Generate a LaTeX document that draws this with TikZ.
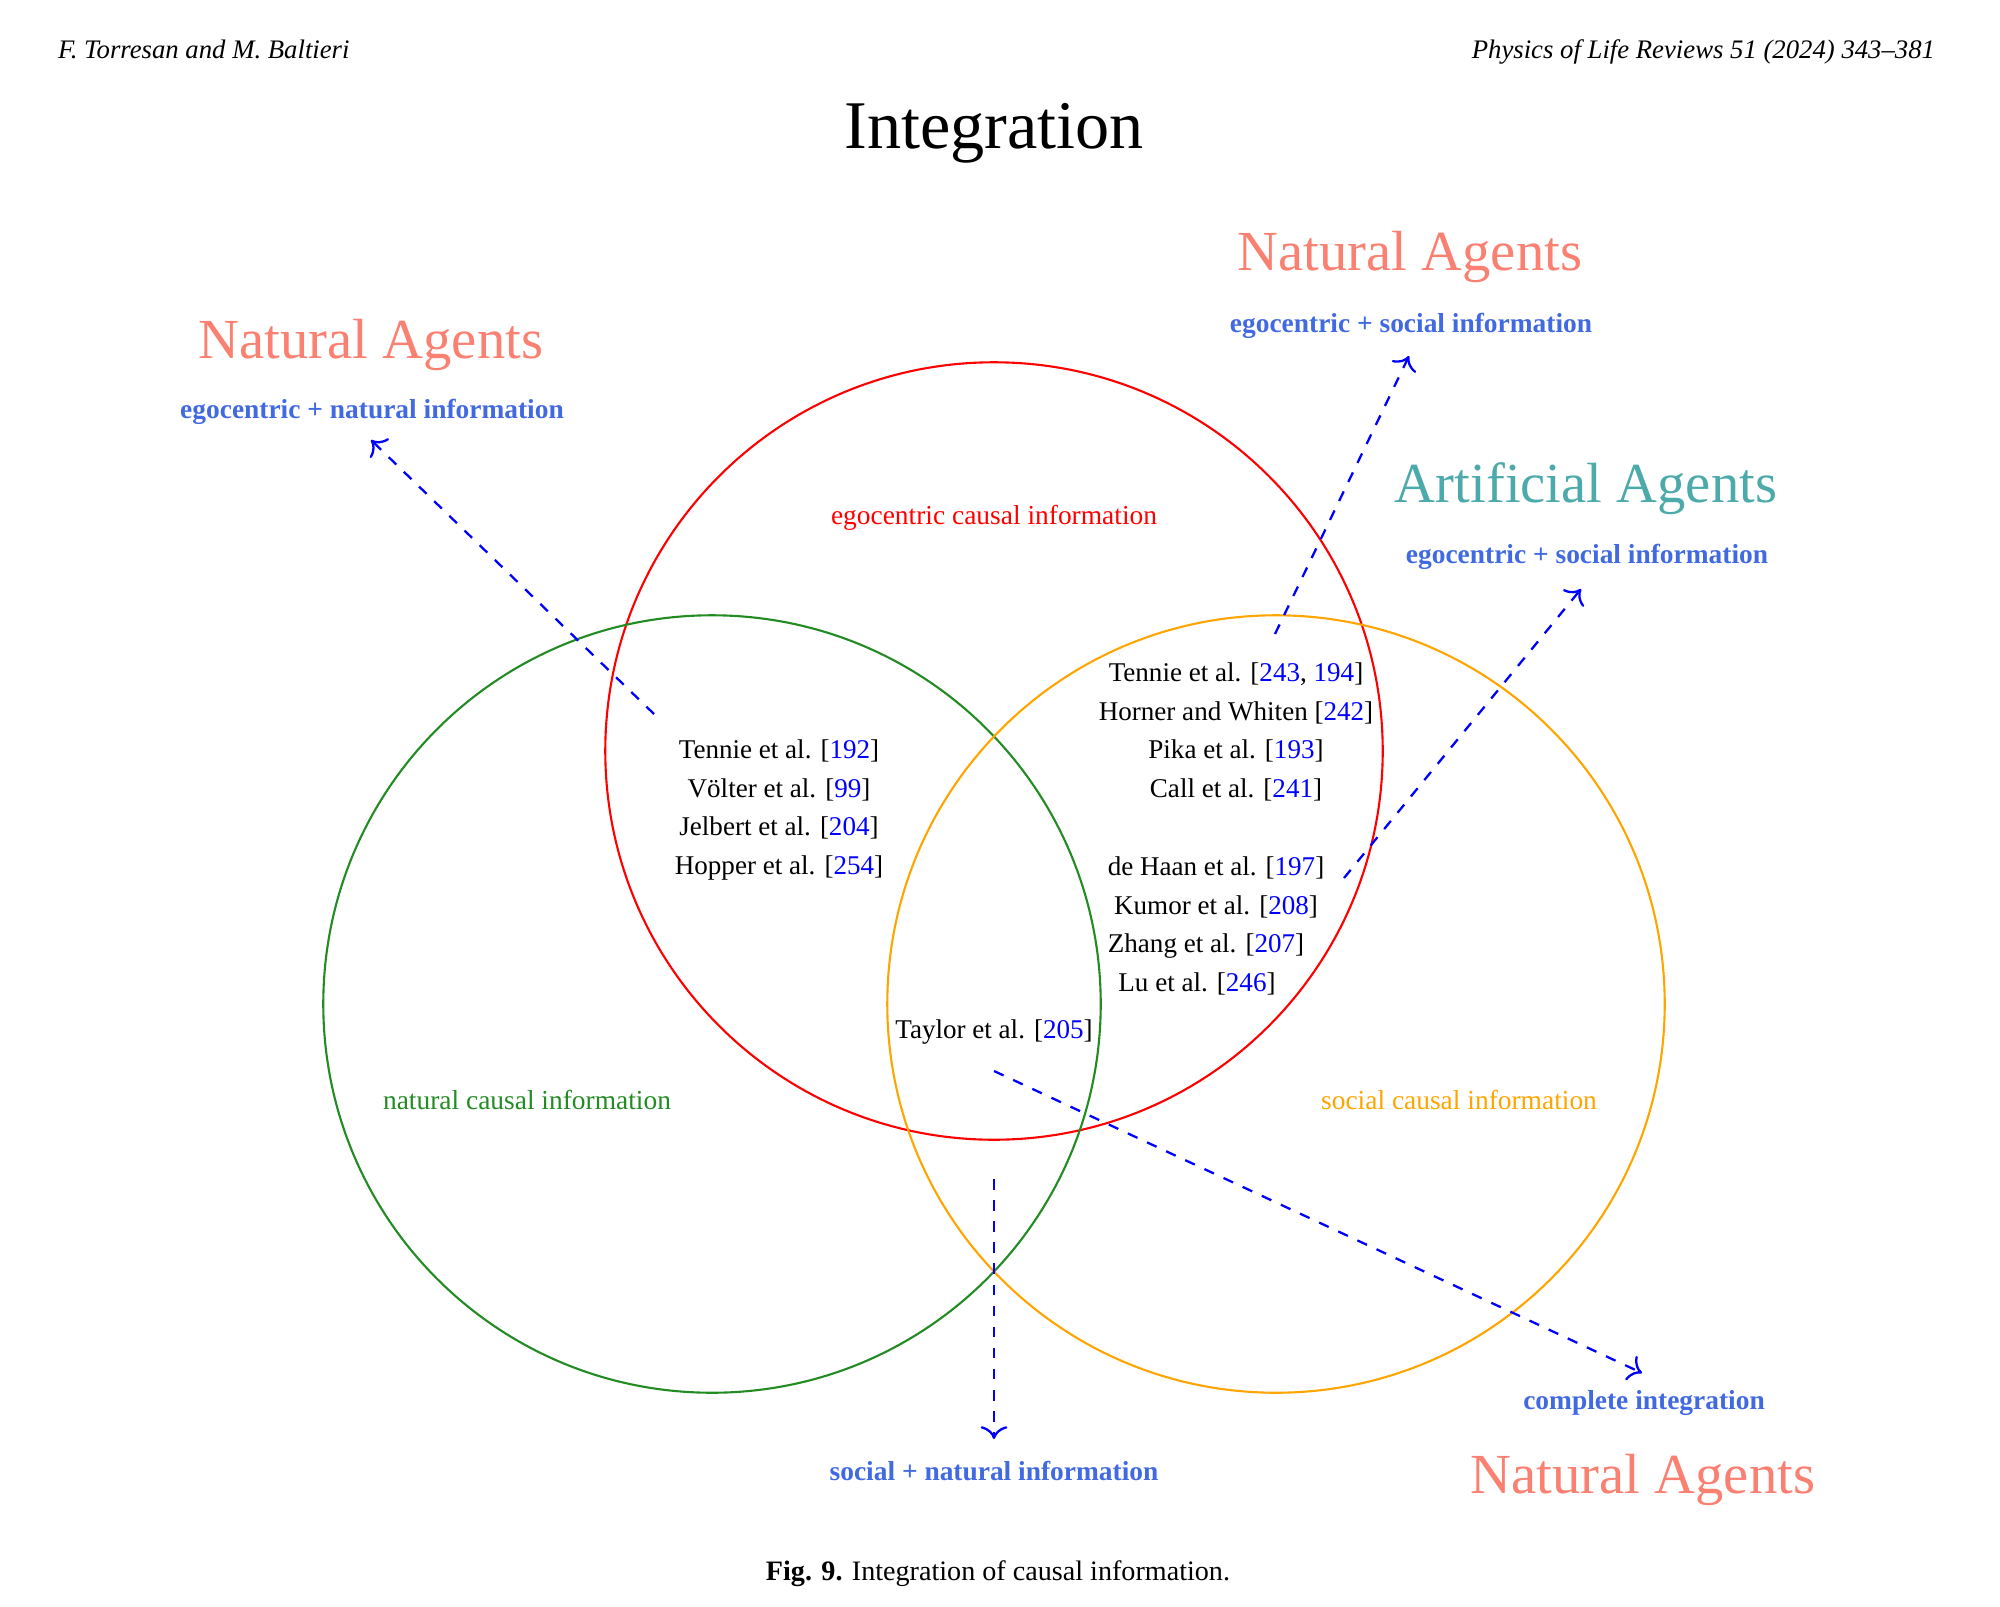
\documentclass[tikz,border=0pt]{standalone}
\usepackage{fontspec}
\usetikzlibrary{arrows.meta}
\setmainfont{Liberation Serif}
\definecolor{salmonc}{RGB}{250,128,114}
\definecolor{tealc}{RGB}{77,170,170}
\definecolor{royalc}{RGB}{65,105,225}
\definecolor{greenc}{RGB}{34,139,34}
\definecolor{orangec}{RGB}{255,165,0}
\newcommand{\rf}[1]{\textcolor{blue}{#1}}
\begin{document}
\begin{tikzpicture}[x=0.01cm,y=-0.01cm,
  every node/.style={inner sep=0pt,outer sep=0pt},
  venn/.style={circle,draw,line width=0.6pt,minimum size=7.77cm,inner sep=0pt},
  conn/.style={draw=blue,line width=0.65pt,dashed,-{To[scale=1.2]}},
  agent/.style={font=\fontsize{16.1}{19}\selectfont,anchor=base},
  info/.style={font=\fontsize{7.8}{9}\selectfont\bfseries,text=royalc,anchor=base},
  reftext/.style={font=\fontsize{7.7}{9}\selectfont,anchor=base},
  region/.style={font=\fontsize{7.8}{9}\selectfont,anchor=base}]
\useasboundingbox (0,0) rectangle (2000,1606);
% header
\node[font=\fontsize{7.6}{9}\selectfont\itshape,anchor=base west] (hl) at (58,58) {F. Torresan and M. Baltieri};
\node[font=\fontsize{7.6}{9}\selectfont\itshape,anchor=base east] (hr) at (1935,58) {Physics of Life Reviews 51 (2024) 343–381};
\node[font=\fontsize{19.4}{23}\selectfont,anchor=base] (title) at (994,148) {Integration};
% circles
\node[venn,draw=red] (ego) at (994,751) {};
\node[venn,draw=greenc] (nat) at (712,1004) {};
\node[venn,draw=orangec] (soc) at (1276,1004) {};
% region labels
\node[region,text=red] (egol) at (994,524) {egocentric causal information};
\node[region,text=greenc] (natl) at (527,1109) {natural causal information};
\node[region,text=orangec] (socl) at (1459,1109) {social causal information};
% references
\node[reftext] (r1) at (779,758) {Tennie et al. [\rf{192}]};
\node[reftext] (r2) at (779,797) {Völter et al. [\rf{99}]};
\node[reftext] (r3) at (779,835) {Jelbert et al. [\rf{204}]};
\node[reftext] (r4) at (779,874) {Hopper et al. [\rf{254}]};
\node[reftext] (r5) at (1236,681) {Tennie et al. [\rf{243}, \rf{194}]};
\node[reftext] (r6) at (1236,720) {Horner and Whiten [\rf{242}]};
\node[reftext] (r7) at (1236,758) {Pika et al. [\rf{193}]};
\node[reftext] (r8) at (1236,797) {Call et al. [\rf{241}]};
\node[reftext] (r9) at (1216,875) {de Haan et al. [\rf{197}]};
\node[reftext] (r10) at (1216,914) {Kumor et al. [\rf{208}]};
\node[reftext] (r11) at (1206,952) {Zhang et al. [\rf{207}]};
\node[reftext] (r12) at (1197,991) {Lu et al. [\rf{246}]};
\node[reftext] (r13) at (994,1038) {Taylor et al. [\rf{205}]};
% agents and info labels
\node[agent,text=salmonc] (na1) at (371,358) {Natural Agents};
\node[info] (i1) at (372,418) {egocentric + natural information};
\node[agent,text=salmonc] (na2) at (1410,270) {Natural Agents};
\node[info] (i2) at (1411,332) {egocentric + social information};
\node[agent,text=tealc] (aa) at (1586,502) {Artificial Agents};
\node[info] (i3) at (1587,563) {egocentric + social information};
\node[info] (i4) at (1644,1409) {complete integration};
\node[agent,text=salmonc] (na3) at (1643,1493) {Natural Agents};
\node[info] (i5) at (994,1480) {social + natural information};
% connectors
\coordinate (s1) at (654,714);  \coordinate (t1) at (371,440);
\coordinate (s2) at (1275,634); \coordinate (t2) at (1409,356);
\coordinate (s3) at (1344,878); \coordinate (t3) at (1581,589);
\coordinate (s4) at (994,1071); \coordinate (t4) at (1642,1373);
\coordinate (s5) at (994,1179); \coordinate (t5) at (994,1439);
\draw[conn] (s1) -- (t1);
\draw[conn] (s2) -- (t2);
\draw[conn] (s3) -- (t3);
\draw[conn] (s4) -- (t4);
\draw[conn] (s5) -- (t5);
% caption
\node[font=\fontsize{8}{10}\selectfont,anchor=base] (cap) at (998,1580) {\textbf{Fig. 9.} Integration of causal information.};
\end{tikzpicture}
\end{document}
